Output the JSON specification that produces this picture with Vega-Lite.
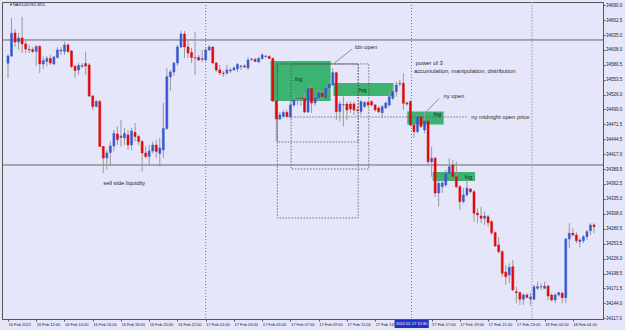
{
 "$schema": "https://vega.github.io/schema/vega-lite/v6.json",
 "width": 601, "height": 317,
 "autosize": {"type": "none"},
 "padding": {"left": 2, "top": 2, "right": 22, "bottom": 11},
 "background": "#E6E6FA",
 "view": {"stroke": "#555555", "strokeWidth": 1},
 "config": {"font": "Liberation Sans", "axis": {"labelOverlap": false, "labelFlush": false, "grid": false, "labelBound": false, "tickCount": 60}},
 "datasets": {
  "candles": [
{"t":0,"o":34583.4,"h":34600.4,"l":34555.9,"c":34596.7},
{"t":1,"o":34596.7,"h":34666.3,"l":34594.9,"c":34638.3},
{"t":2,"o":34638.8,"h":34646.1,"l":34613.2,"c":34622.3},
{"t":3,"o":34622.3,"h":34638.8,"l":34607.7,"c":34629.7},
{"t":4,"o":34629.7,"h":34668.1,"l":34602.2,"c":34618.7},
{"t":5,"o":34618.7,"h":34624.2,"l":34602.2,"c":34609.5},
{"t":6,"o":34608.6,"h":34616.9,"l":34602.2,"c":34607.7},
{"t":7,"o":34608.6,"h":34613.2,"l":34602.2,"c":34605.0},
{"t":8,"o":34605.0,"h":34616.9,"l":34578.4,"c":34614.1},
{"t":9,"o":34614.1,"h":34616.9,"l":34565.6,"c":34582.1},
{"t":10,"o":34582.1,"h":34595.8,"l":34572.9,"c":34588.5},
{"t":11,"o":34586.7,"h":34596.7,"l":34577.5,"c":34592.1},
{"t":12,"o":34592.1,"h":34598.6,"l":34580.3,"c":34583.9},
{"t":13,"o":34582.1,"h":34596.7,"l":34580.3,"c":34594.9},
{"t":14,"o":34594.0,"h":34613.2,"l":34592.1,"c":34607.7},
{"t":15,"o":34605.9,"h":34613.2,"l":34598.6,"c":34607.7},
{"t":16,"o":34605.0,"h":34623.3,"l":34598.6,"c":34616.9},
{"t":17,"o":34616.9,"h":34620.5,"l":34602.2,"c":34605.0},
{"t":18,"o":34605.9,"h":34607.7,"l":34574.8,"c":34577.5},
{"t":19,"o":34577.5,"h":34580.3,"l":34556.5,"c":34570.2},
{"t":20,"o":34571.1,"h":34583.9,"l":34562.0,"c":34579.3},
{"t":21,"o":34577.5,"h":34583.9,"l":34574.8,"c":34579.3},
{"t":22,"o":34583.0,"h":34605.0,"l":34562.0,"c":34578.4},
{"t":23,"o":34580.3,"h":34583.9,"l":34521.7,"c":34523.5},
{"t":24,"o":34523.5,"h":34525.4,"l":34497.9,"c":34504.3},
{"t":25,"o":34504.3,"h":34516.2,"l":34502.5,"c":34513.5},
{"t":26,"o":34513.5,"h":34516.2,"l":34430.2,"c":34431.1},
{"t":27,"o":34431.1,"h":34432.0,"l":34382.6,"c":34410.1},
{"t":28,"o":34410.1,"h":34424.7,"l":34388.1,"c":34419.2},
{"t":29,"o":34420.1,"h":34440.3,"l":34394.5,"c":34432.0},
{"t":30,"o":34432.0,"h":34461.3,"l":34422.0,"c":34454.9},
{"t":31,"o":34454.0,"h":34467.7,"l":34433.9,"c":34443.9},
{"t":32,"o":34447.6,"h":34479.6,"l":34431.1,"c":34450.3},
{"t":33,"o":34446.7,"h":34465.0,"l":34433.9,"c":34454.9},
{"t":34,"o":34452.2,"h":34461.3,"l":34424.7,"c":34433.9},
{"t":35,"o":34433.9,"h":34465.0,"l":34423.8,"c":34459.5},
{"t":36,"o":34456.7,"h":34474.1,"l":34440.3,"c":34449.4},
{"t":37,"o":34449.4,"h":34452.2,"l":34433.9,"c":34440.3},
{"t":38,"o":34440.3,"h":34443.0,"l":34385.4,"c":34419.2},
{"t":39,"o":34419.2,"h":34431.1,"l":34410.1,"c":34412.8},
{"t":40,"o":34412.8,"h":34433.9,"l":34397.3,"c":34422.9},
{"t":41,"o":34422.9,"h":34440.3,"l":34418.3,"c":34433.9},
{"t":42,"o":34433.9,"h":34443.0,"l":34410.1,"c":34422.0},
{"t":43,"o":34418.3,"h":34446.7,"l":34394.5,"c":34428.4},
{"t":44,"o":34424.7,"h":34510.7,"l":34410.1,"c":34464.0},
{"t":45,"o":34464.0,"h":34574.2,"l":34461.3,"c":34558.8},
{"t":46,"o":34558.3,"h":34571.1,"l":34532.7,"c":34567.4},
{"t":47,"o":34567.4,"h":34585.7,"l":34560.1,"c":34583.9},
{"t":48,"o":34583.9,"h":34616.9,"l":34578.4,"c":34613.2},
{"t":49,"o":34613.2,"h":34642.5,"l":34611.4,"c":34637.0},
{"t":50,"o":34637.0,"h":34642.5,"l":34593.1,"c":34613.2},
{"t":51,"o":34613.2,"h":34626.0,"l":34593.1,"c":34602.2},
{"t":52,"o":34603.1,"h":34611.4,"l":34583.9,"c":34594.0},
{"t":53,"o":34593.1,"h":34640.6,"l":34562.0,"c":34594.0},
{"t":54,"o":34594.0,"h":34598.6,"l":34587.6,"c":34589.4},
{"t":55,"o":34590.3,"h":34607.7,"l":34585.7,"c":34592.1},
{"t":56,"o":34589.4,"h":34611.4,"l":34586.7,"c":34607.7},
{"t":57,"o":34607.7,"h":34616.9,"l":34605.9,"c":34613.2},
{"t":58,"o":34613.2,"h":34615.0,"l":34582.1,"c":34583.9},
{"t":59,"o":34583.9,"h":34585.7,"l":34567.4,"c":34571.1},
{"t":60,"o":34571.1,"h":34580.3,"l":34562.0,"c":34565.6},
{"t":61,"o":34565.6,"h":34569.3,"l":34558.3,"c":34564.7},
{"t":62,"o":34565.6,"h":34580.3,"l":34562.0,"c":34571.1},
{"t":63,"o":34569.3,"h":34574.8,"l":34565.6,"c":34571.1},
{"t":64,"o":34571.1,"h":34578.4,"l":34569.3,"c":34574.8},
{"t":65,"o":34572.9,"h":34583.9,"l":34567.4,"c":34581.2},
{"t":66,"o":34577.5,"h":34580.3,"l":34571.1,"c":34578.4},
{"t":67,"o":34578.4,"h":34582.1,"l":34574.8,"c":34576.6},
{"t":68,"o":34574.8,"h":34594.9,"l":34571.1,"c":34589.4},
{"t":69,"o":34590.3,"h":34593.1,"l":34587.6,"c":34591.2},
{"t":70,"o":34590.3,"h":34593.1,"l":34585.7,"c":34586.7},
{"t":71,"o":34585.7,"h":34594.9,"l":34583.9,"c":34592.1},
{"t":72,"o":34592.1,"h":34602.2,"l":34589.4,"c":34598.6},
{"t":73,"o":34595.8,"h":34598.6,"l":34593.1,"c":34596.7},
{"t":74,"o":34595.8,"h":34598.6,"l":34591.2,"c":34592.1},
{"t":75,"o":34592.1,"h":34594.0,"l":34512.5,"c":34514.4},
{"t":76,"o":34514.4,"h":34516.2,"l":34440.3,"c":34481.4},
{"t":77,"o":34481.4,"h":34494.2,"l":34479.6,"c":34488.8},
{"t":78,"o":34486.0,"h":34497.9,"l":34483.3,"c":34493.3},
{"t":79,"o":34493.3,"h":34497.9,"l":34482.3,"c":34486.0},
{"t":80,"o":34486.0,"h":34513.5,"l":34482.3,"c":34507.1},
{"t":81,"o":34507.1,"h":34529.0,"l":34503.4,"c":34516.2},
{"t":82,"o":34518.9,"h":34525.4,"l":34507.1,"c":34519.9},
{"t":83,"o":34519.9,"h":34525.4,"l":34505.2,"c":34518.9},
{"t":84,"o":34518.9,"h":34529.0,"l":34492.4,"c":34494.2},
{"t":85,"o":34494.2,"h":34543.7,"l":34492.4,"c":34537.2},
{"t":86,"o":34537.2,"h":34543.7,"l":34492.4,"c":34510.7},
{"t":87,"o":34510.7,"h":34523.5,"l":34505.2,"c":34519.9},
{"t":88,"o":34519.9,"h":34534.5,"l":34516.2,"c":34529.6},
{"t":89,"o":34529.0,"h":34532.7,"l":34518.0,"c":34522.2},
{"t":90,"o":34519.9,"h":34541.8,"l":34518.0,"c":34538.2},
{"t":91,"o":34538.2,"h":34549.1,"l":34536.3,"c":34545.5},
{"t":92,"o":34543.7,"h":34574.8,"l":34541.8,"c":34566.2},
{"t":93,"o":34566.2,"h":34568.0,"l":34479.6,"c":34494.8},
{"t":94,"o":34495.2,"h":34513.5,"l":34476.9,"c":34508.9},
{"t":95,"o":34507.1,"h":34522.6,"l":34467.7,"c":34508.0},
{"t":96,"o":34508.9,"h":34513.5,"l":34479.6,"c":34497.9},
{"t":97,"o":34508.9,"h":34513.5,"l":34492.4,"c":34499.7},
{"t":98,"o":34508.9,"h":34513.5,"l":34488.8,"c":34497.9},
{"t":99,"o":34497.9,"h":34505.2,"l":34494.2,"c":34497.0},
{"t":100,"o":34495.2,"h":34516.2,"l":34488.8,"c":34513.1},
{"t":101,"o":34504.3,"h":34514.4,"l":34501.6,"c":34511.6},
{"t":102,"o":34511.6,"h":34514.4,"l":34503.4,"c":34507.1},
{"t":103,"o":34513.1,"h":34516.2,"l":34503.9,"c":34507.1},
{"t":104,"o":34507.1,"h":34508.9,"l":34494.8,"c":34497.9},
{"t":105,"o":34501.6,"h":34504.3,"l":34492.4,"c":34494.8},
{"t":106,"o":34493.0,"h":34507.1,"l":34482.7,"c":34503.9},
{"t":107,"o":34501.6,"h":34513.5,"l":34499.7,"c":34510.7},
{"t":108,"o":34507.1,"h":34534.5,"l":34503.9,"c":34522.2},
{"t":109,"o":34519.3,"h":34540.5,"l":34516.2,"c":34531.4},
{"t":110,"o":34531.4,"h":34549.7,"l":34522.2,"c":34543.7},
{"t":111,"o":34545.5,"h":34552.8,"l":34541.8,"c":34546.8},
{"t":112,"o":34546.8,"h":34565.1,"l":34497.9,"c":34510.2},
{"t":113,"o":34510.7,"h":34513.1,"l":34505.2,"c":34508.9},
{"t":114,"o":34513.1,"h":34516.2,"l":34468.6,"c":34470.5},
{"t":115,"o":34470.5,"h":34472.3,"l":34446.7,"c":34458.2},
{"t":116,"o":34458.2,"h":34488.8,"l":34455.3,"c":34485.6},
{"t":117,"o":34485.6,"h":34488.8,"l":34465.0,"c":34467.3},
{"t":118,"o":34461.3,"h":34494.8,"l":34455.3,"c":34477.8},
{"t":119,"o":34477.8,"h":34479.6,"l":34397.3,"c":34403.3},
{"t":120,"o":34403.3,"h":34430.7,"l":34375.8,"c":34409.5},
{"t":121,"o":34409.5,"h":34411.9,"l":34338.7,"c":34346.0},
{"t":122,"o":34346.0,"h":34368.0,"l":34320.9,"c":34363.8},
{"t":123,"o":34357.5,"h":34369.8,"l":34346.0,"c":34364.3},
{"t":124,"o":34360.7,"h":34388.1,"l":34357.0,"c":34382.1},
{"t":125,"o":34382.1,"h":34409.5,"l":34379.0,"c":34394.1},
{"t":126,"o":34397.3,"h":34406.4,"l":34373.5,"c":34375.8},
{"t":127,"o":34375.8,"h":34403.3,"l":34354.6,"c":34357.5},
{"t":128,"o":34357.5,"h":34360.7,"l":34314.9,"c":34330.1},
{"t":129,"o":34330.1,"h":34355.2,"l":34327.2,"c":34342.4},
{"t":130,"o":34342.4,"h":34369.8,"l":34339.2,"c":34354.6},
{"t":131,"o":34353.3,"h":34354.6,"l":34345.5,"c":34348.4},
{"t":132,"o":34348.4,"h":34351.5,"l":34293.5,"c":34308.9},
{"t":133,"o":34308.9,"h":34318.0,"l":34290.6,"c":34305.8},
{"t":134,"o":34303.9,"h":34320.9,"l":34290.6,"c":34299.7},
{"t":135,"o":34299.7,"h":34311.8,"l":34287.5,"c":34303.9},
{"t":136,"o":34302.6,"h":34305.8,"l":34284.3,"c":34291.7},
{"t":137,"o":34293.5,"h":34296.6,"l":34269.2,"c":34273.4},
{"t":138,"o":34273.4,"h":34275.2,"l":34247.7,"c":34249.0},
{"t":139,"o":34250.9,"h":34266.0,"l":34235.7,"c":34238.6},
{"t":140,"o":34238.6,"h":34241.7,"l":34192.8,"c":34199.1},
{"t":141,"o":34201.4,"h":34214.3,"l":34177.7,"c":34192.8},
{"t":142,"o":34196.0,"h":34217.4,"l":34180.8,"c":34210.0},
{"t":143,"o":34211.1,"h":34223.4,"l":34166.7,"c":34168.5},
{"t":144,"o":34165.4,"h":34174.5,"l":34144.2,"c":34163.6},
{"t":145,"o":34163.6,"h":34165.4,"l":34141.1,"c":34151.5},
{"t":146,"o":34151.5,"h":34162.5,"l":34141.1,"c":34159.4},
{"t":147,"o":34159.4,"h":34162.5,"l":34153.3,"c":34155.1},
{"t":148,"o":34152.0,"h":34162.5,"l":34141.1,"c":34155.7},
{"t":149,"o":34151.5,"h":34177.7,"l":34150.2,"c":34174.5},
{"t":150,"o":34171.6,"h":34183.7,"l":34168.5,"c":34174.5},
{"t":151,"o":34174.0,"h":34180.8,"l":34168.5,"c":34174.5},
{"t":152,"o":34171.6,"h":34183.7,"l":34169.8,"c":34175.8},
{"t":153,"o":34175.8,"h":34177.7,"l":34150.2,"c":34157.5},
{"t":154,"o":34159.4,"h":34162.5,"l":34147.1,"c":34150.2},
{"t":155,"o":34150.2,"h":34162.5,"l":34144.2,"c":34159.4},
{"t":156,"o":34159.4,"h":34165.4,"l":34156.2,"c":34163.6},
{"t":157,"o":34162.5,"h":34165.4,"l":34144.2,"c":34154.4},
{"t":158,"o":34154.4,"h":34263.5,"l":34144.2,"c":34261.8},
{"t":159,"o":34261.8,"h":34290.6,"l":34244.8,"c":34272.3},
{"t":160,"o":34272.3,"h":34281.4,"l":34266.0,"c":34269.2},
{"t":161,"o":34269.2,"h":34275.2,"l":34254.0,"c":34258.7},
{"t":162,"o":34256.9,"h":34263.1,"l":34246.6,"c":34260.0},
{"t":163,"o":34258.7,"h":34269.2,"l":34254.0,"c":34266.0},
{"t":164,"o":34266.0,"h":34278.3,"l":34260.0,"c":34275.2},
{"t":165,"o":34277.0,"h":34290.6,"l":34269.2,"c":34287.5},
{"t":166,"o":34287.5,"h":34290.6,"l":34272.3,"c":34284.3}
  ],
  "fvg": [
   {"t":74.4,"t2":91.4,"p":34587.6,"p2":34514.4},
   {"t":92.2,"t2":109.2,"p":34547.3,"p2":34523.5},
   {"t":113.1,"t2":123.4,"p":34495.2,"p2":34471.4},
   {"t":120.3,"t2":132.3,"p":34384.4,"p2":34368.0}
  ],
  "boxes": [
   {"t":76.3,"t2":99.2,"p":34582.1,"p2":34300.3},
   {"t":80.2,"t2":102.2,"p":34582.1,"p2":34389.9},
   {"t":76.3,"t2":99.2,"p":34582.1,"p2":34439.3}
  ],
  "levels": [{"p":34626.0},{"p":34397.2}],
  "vlines": [
   {"t":56,"kind":"day"},
   {"t":114.3,"kind":"ny"},
   {"t":148.4,"kind":"mark"}
  ],
  "segments": [
   {"t":92.4,"p":34583.4,"t2":97.4,"p2":34609.0,"kind":"leader"},
   {"t":118.5,"p":34494.8,"t2":122.2,"p2":34519.3,"kind":"leader"},
   {"t":79.4,"p":34485.1,"t2":130.3,"p2":34485.1,"kind":"midnight"}
  ],
  "notes": [
   {"t":98.3,"p":34612.6,"text":"ldn open","kind":"note"},
   {"t":115.5,"p":34583.4,"text":"power of 3","kind":"note"},
   {"t":115.0,"p":34569.3,"text":"accumulation, manipulation, distribution","kind":"note"},
   {"t":123.4,"p":34523.5,"text":"ny open","kind":"note"},
   {"t":131.2,"p":34485.1,"text":"ny midnight open price","kind":"note"},
   {"t":27.0,"p":34364.9,"text":"sell side liquidity","kind":"note"},
   {"t":81.3,"p":34554.6,"text":"fvg","kind":"fvg"},
   {"t":99.4,"p":34534.5,"text":"fvg","kind":"fvg"},
   {"t":120.6,"p":34490.6,"text":"fvg","kind":"fvg"},
   {"t":129.4,"p":34375.8,"text":"fvg","kind":"fvg"},
   {"t":0.3,"p":34690.1,"text":"▼","kind":"title"},
   {"t":1.4,"p":34690.1,"text":"NAS100USD,M15","kind":"title"}
  ],
  "cursor": [
   {"t":109.5,"t2":119.2,"p":34113.6,"p2":34099.0,"tm":114.35,"pm":34106.3,"text":"2022.02.17 15:30"}
  ]
 },
 "layer": [
  {
   "data": {"name": "fvg"},
   "mark": {"type": "rect", "color": "#3CB371"},
   "encoding": {
    "x": {"field": "t", "type": "quantitative", "scale": {"domain": [-0.28, 167.13], "nice": false, "zero": false}},
    "x2": {"field": "t2"},
    "y": {"field": "p", "type": "quantitative", "scale": {"domain": [34115.4, 34695.5], "nice": false, "zero": false}},
    "y2": {"field": "p2"}
   }
  },
  {
   "data": {"name": "boxes"},
   "mark": {"type": "rect", "filled": false, "stroke": "#555555", "strokeWidth": 0.8, "strokeDash": [1.5, 1.5]},
   "encoding": {
    "x": {"field": "t", "type": "quantitative", "scale": {"domain": [-0.28, 167.13], "nice": false, "zero": false}},
    "x2": {"field": "t2"},
    "y": {"field": "p", "type": "quantitative", "scale": {"domain": [34115.4, 34695.5], "nice": false, "zero": false}},
    "y2": {"field": "p2"}
   }
  },
  {
   "data": {"name": "levels"},
   "mark": {"type": "rule", "color": "#666666", "strokeWidth": 1},
   "encoding": {
    "y": {"field": "p", "type": "quantitative", "scale": {"domain": [34115.4, 34695.5], "nice": false, "zero": false}}
   }
  },
  {
   "data": {"name": "segments"},
   "transform": [{"filter": "datum.kind == 'midnight'"}],
   "mark": {"type": "rule", "color": "#555555", "strokeWidth": 0.8, "strokeDash": [1.5, 1.5]},
   "encoding": {
    "x": {"field": "t", "type": "quantitative", "scale": {"domain": [-0.28, 167.13], "nice": false, "zero": false}},
    "x2": {"field": "t2"},
    "y": {"field": "p", "type": "quantitative", "scale": {"domain": [34115.4, 34695.5], "nice": false, "zero": false}},
    "y2": {"field": "p2"}
   }
  },
  {
   "data": {"name": "segments"},
   "transform": [{"filter": "datum.kind == 'leader'"}],
   "mark": {"type": "rule", "color": "#555555", "strokeWidth": 0.6},
   "encoding": {
    "x": {"field": "t", "type": "quantitative", "scale": {"domain": [-0.28, 167.13], "nice": false, "zero": false}},
    "x2": {"field": "t2"},
    "y": {"field": "p", "type": "quantitative", "scale": {"domain": [34115.4, 34695.5], "nice": false, "zero": false}},
    "y2": {"field": "p2"}
   }
  },
  {
   "data": {"name": "candles"},
   "mark": {"type": "rule", "color": "#999999", "strokeWidth": 1},
   "encoding": {
    "x": {"field": "t", "type": "quantitative", "scale": {"domain": [-0.28, 167.13], "nice": false, "zero": false},
     "axis": {"orient": "bottom", "title": null, "grid": false, "tickCount": 60, "values": [0,8,16,24,32,40,48,56,64,72,80,88,96,104,120,128,136,144,152,160],
      "labelExpr": "['16 Feb 2022','16 Feb 12:00','16 Feb 14:00','16 Feb 16:00','16 Feb 18:00','16 Feb 20:00','16 Feb 22:00','17 Feb 01:00','17 Feb 03:00','17 Feb 05:00','17 Feb 07:00','17 Feb 09:00','17 Feb 11:00','17 Feb 13:00','17 Feb 15:00','17 Feb 17:00','17 Feb 19:00','17 Feb 21:00','17 Feb 23:00','18 Feb 02:00','18 Feb 04:00'][round(datum.value/8)]",
      "labelAlign": "left", "labelBaseline": "top", "labelFontSize": 4, "labelFont": "Liberation Sans", "labelColor": "#222222", "labelPadding": 1, "labelFlush": false, "labelOverlap": false,
      "tickSize": 2, "tickColor": "#555555", "domainColor": "#555555", "domainWidth": 1}},
    "y": {"field": "l", "type": "quantitative", "scale": {"domain": [34115.4, 34695.5], "nice": false, "zero": false},
     "axis": {"orient": "right", "title": null, "grid": false, "format": ".1f", "tickCount": 60,
      "values": [34117.0, 34144.0, 34171.5, 34198.5, 34226.0, 34253.5, 34280.5, 34308.0, 34335.0, 34362.5, 34389.5, 34417.0, 34444.5, 34471.5, 34499.0, 34526.0, 34553.5, 34580.5, 34608.0, 34635.0, 34662.5, 34690.0],
      "labelFontSize": 4.5, "labelFont": "Liberation Sans", "labelColor": "#222222", "labelPadding": 0.5, "labelFlush": false, "labelOverlap": false,
      "tickSize": 2, "tickColor": "#555555", "domainColor": "#555555"}},
    "y2": {"field": "h"}
   }
  },
  {
   "data": {"name": "candles"},
   "mark": {"type": "bar", "width": 2, "strokeWidth": 0.5},
   "encoding": {
    "x": {"field": "t", "type": "quantitative", "scale": {"domain": [-0.28, 167.13], "nice": false, "zero": false}},
    "y": {"field": "o", "type": "quantitative", "scale": {"domain": [34115.4, 34695.5], "nice": false, "zero": false}},
    "y2": {"field": "c"},
    "color": {"condition": {"test": "datum.c >= datum.o", "value": "#3858d0"}, "value": "#e00a0a"},
    "stroke": {"condition": {"test": "datum.c >= datum.o", "value": "#3858d0"}, "value": "#e00a0a"}
   }
  },
  {
   "data": {"name": "vlines"},
   "transform": [{"filter": "datum.kind == 'day'"}],
   "mark": {"type": "rule", "color": "#555555", "strokeWidth": 0.8, "strokeDash": [1, 2]},
   "encoding": {"x": {"field": "t", "type": "quantitative", "scale": {"domain": [-0.28, 167.13], "nice": false, "zero": false}}}
  },
  {
   "data": {"name": "vlines"},
   "transform": [{"filter": "datum.kind == 'ny'"}],
   "mark": {"type": "rule", "color": "#4a50b8", "strokeWidth": 0.8, "strokeDash": [1, 2]},
   "encoding": {"x": {"field": "t", "type": "quantitative", "scale": {"domain": [-0.28, 167.13], "nice": false, "zero": false}}}
  },
  {
   "data": {"name": "vlines"},
   "transform": [{"filter": "datum.kind == 'mark'"}],
   "mark": {"type": "rule", "color": "#9a9a9a", "strokeWidth": 1, "strokeDash": [1.5, 1.5]},
   "encoding": {"x": {"field": "t", "type": "quantitative", "scale": {"domain": [-0.28, 167.13], "nice": false, "zero": false}}}
  },
  {
   "data": {"name": "notes"},
   "transform": [{"filter": "datum.kind == 'note'"}],
   "mark": {"type": "text", "align": "left", "baseline": "middle", "fontSize": 5.8, "font": "Liberation Sans", "color": "#2a2a2a"},
   "encoding": {
    "x": {"field": "t", "type": "quantitative", "scale": {"domain": [-0.28, 167.13], "nice": false, "zero": false}},
    "y": {"field": "p", "type": "quantitative", "scale": {"domain": [34115.4, 34695.5], "nice": false, "zero": false}},
    "text": {"field": "text"}
   }
  },
  {
   "data": {"name": "notes"},
   "transform": [{"filter": "datum.kind == 'fvg'"}],
   "mark": {"type": "text", "align": "left", "baseline": "middle", "fontSize": 5.5, "font": "Liberation Sans", "color": "#1a1a1a"},
   "encoding": {
    "x": {"field": "t", "type": "quantitative", "scale": {"domain": [-0.28, 167.13], "nice": false, "zero": false}},
    "y": {"field": "p", "type": "quantitative", "scale": {"domain": [34115.4, 34695.5], "nice": false, "zero": false}},
    "text": {"field": "text"}
   }
  },
  {
   "data": {"name": "notes"},
   "transform": [{"filter": "datum.kind == 'title'"}],
   "mark": {"type": "text", "align": "left", "baseline": "middle", "fontSize": 4, "font": "Liberation Sans", "color": "#222222"},
   "encoding": {
    "x": {"field": "t", "type": "quantitative", "scale": {"domain": [-0.28, 167.13], "nice": false, "zero": false}},
    "y": {"field": "p", "type": "quantitative", "scale": {"domain": [34115.4, 34695.5], "nice": false, "zero": false}},
    "text": {"field": "text"}
   }
  },
  {
   "data": {"name": "cursor"},
   "mark": {"type": "rect", "color": "#2232c8"},
   "encoding": {
    "x": {"field": "t", "type": "quantitative", "scale": {"domain": [-0.28, 167.13], "nice": false, "zero": false}},
    "x2": {"field": "t2"},
    "y": {"field": "p", "type": "quantitative", "scale": {"domain": [34115.4, 34695.5], "nice": false, "zero": false}},
    "y2": {"field": "p2"}
   }
  },
  {
   "data": {"name": "cursor"},
   "mark": {"type": "text", "align": "center", "baseline": "middle", "fontSize": 4, "font": "Liberation Sans", "color": "#ffffff"},
   "encoding": {
    "x": {"field": "tm", "type": "quantitative", "scale": {"domain": [-0.28, 167.13], "nice": false, "zero": false}},
    "y": {"field": "pm", "type": "quantitative", "scale": {"domain": [34115.4, 34695.5], "nice": false, "zero": false}},
    "text": {"field": "text"}
   }
  }
 ]
}
